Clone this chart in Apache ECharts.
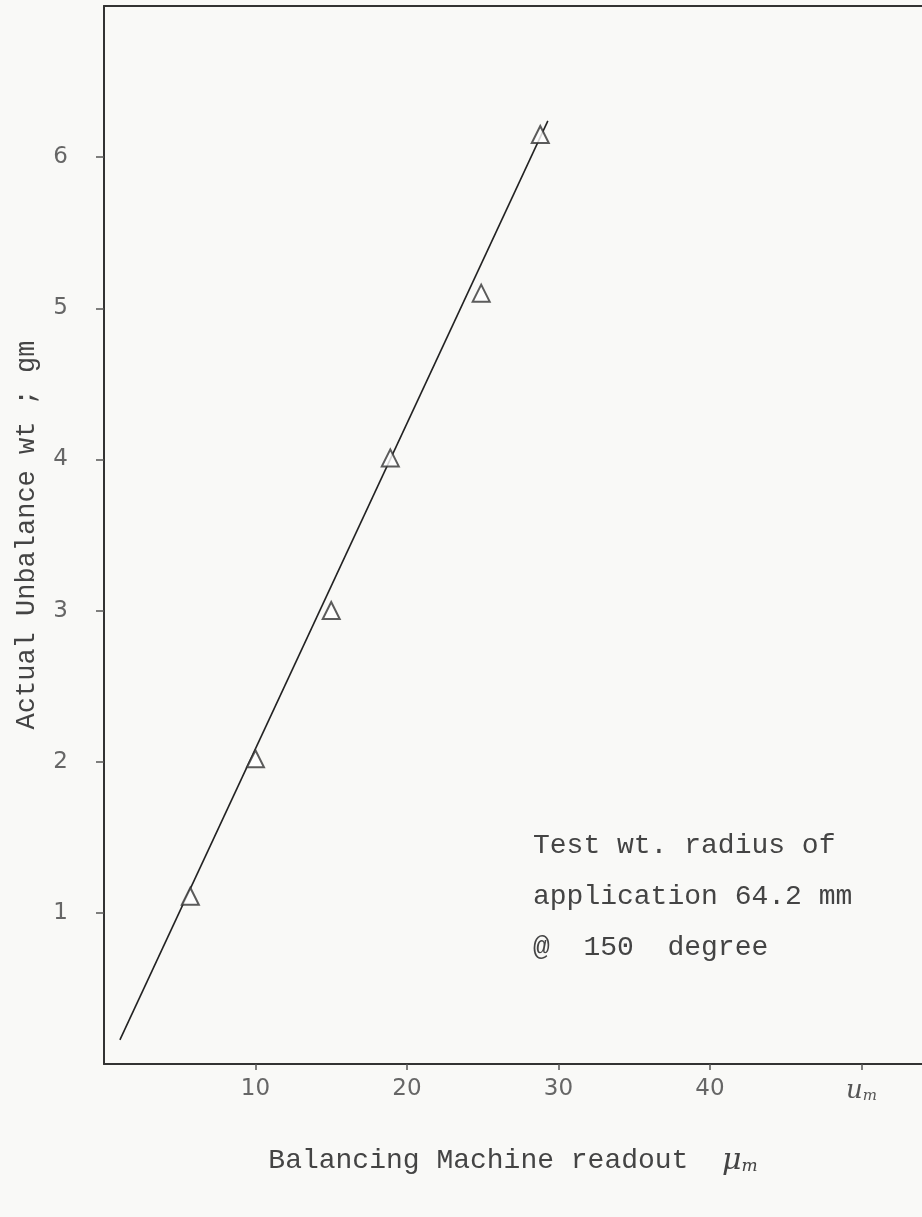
<!DOCTYPE html>
<html>
<head>
<meta charset="utf-8">
<script src="https://cdn.jsdelivr.net/npm/echarts@6/dist/echarts.min.js"></script>
<style>
html,body{margin:0;padding:0;background:#f9f9f7;}
#c{width:922px;height:1217px;}
</style>
</head>
<body>
<div id="c"></div>
<script>
// Measured points (Balancing machine readout, actual unbalance wt in gm)
const readout = [5.7, 10.0, 15.0, 18.9, 24.9, 28.8];
const unbalance = [1.11, 2.02, 3.0, 4.01, 5.1, 6.15];
// Hand-drawn fit line end points
const fitX = [1.05, 29.3];
const fitY = [0.16, 6.24];
// Tick values / labels
const xTicks = [10, 20, 30, 40, 50];
const xTickLabels = {10: '10', 20: '20', 30: '30', 40: '40', 50: 'um'};
const yTicks = [1, 2, 3, 4, 5, 6];
const yTickLabels = {1: '1', 2: '2', 3: '3', 4: '4', 5: '5', 6: '6'};
const noteLines = ['Test wt. radius of', 'application 64.2 mm', '@  150  degree'];

const mono = '"Liberation Mono", "DejaVu Sans Mono", monospace';
const chart = echarts.init(document.getElementById('c'), null, {renderer: 'canvas'});

const option = {
  backgroundColor: '#f9f9f7',
  animation: false,
  grid: {left: 104, top: 6, right: 0, bottom: 153},
  xAxis: [{
    type: 'value', min: 0, max: 54, interval: 10,
    axisLine: {show: true, lineStyle: {color: '#333', width: 2}},
    axisTick: {show: true, inside: false, length: 6, customValues: xTicks, lineStyle: {color: '#555', width: 1.5}},
    splitLine: {show: false},
    axisLabel: {
      margin: 14, color: '#666', fontSize: 23, fontFamily: '"DejaVu Sans", sans-serif',
      customValues: xTicks,
      formatter: v => {
        const t = xTickLabels[v];
        if (!t) return '';
        if (t === 'um') return '{u|u}{s|m}';
        return t;
      },
      rich: {
        u: {fontSize: 26, fontStyle: 'italic', fontFamily: '"DejaVu Serif", serif', color: '#555'},
        s: {fontSize: 15, fontStyle: 'italic', fontFamily: '"DejaVu Serif", serif', color: '#555', padding: [10, 0, 0, 0]}
      }
    },
    name: 'Balancing Machine readout  {mu|μ}{m|m}',
    nameLocation: 'middle', nameGap: 82,
    nameTextStyle: {
      fontFamily: mono, fontSize: 28, color: '#444',
      rich: {
        mu: {fontFamily: '"DejaVu Serif", serif', fontStyle: 'italic', fontSize: 30, color: '#444'},
        m: {fontFamily: '"DejaVu Serif", serif', fontStyle: 'italic', fontSize: 17, color: '#444', padding: [12, 0, 0, 0]}
      }
    }
  }, {
    type: 'value', position: 'top', min: 0, max: 54,
    axisLine: {show: true, lineStyle: {color: '#333', width: 2}},
    axisTick: {show: false}, axisLabel: {show: false}, splitLine: {show: false}
  }],
  yAxis: {
    type: 'value', min: 0, max: 7, interval: 1,
    axisLine: {show: true, lineStyle: {color: '#333', width: 2}},
    axisTick: {show: true, inside: false, length: 8, customValues: yTicks, lineStyle: {color: '#555', width: 1.5}},
    splitLine: {show: false},
    axisLabel: {
      margin: 36, color: '#666', fontSize: 23, fontFamily: '"DejaVu Sans", sans-serif',
      customValues: yTicks,
      formatter: v => yTickLabels[v] || ''
    },
    name: 'Actual Unbalance wt ; gm',
    nameLocation: 'middle', nameRotate: 90, nameGap: 64,
    nameTextStyle: {fontFamily: mono, fontSize: 27, color: '#444'}
  },
  graphic: noteLines.map((t, i) => ({
    type: 'text', left: 533, top: 832 + i * 51,
    style: {text: t, font: '28px ' + mono, fill: '#444'}
  })),
  series: [{
    type: 'line',
    data: fitX.map((x, i) => [x, fitY[i]]),
    symbol: 'none',
    lineStyle: {color: '#222', width: 1.6},
    z: 2
  }, {
    type: 'scatter',
    data: readout.map((x, i) => [x, unbalance[i]]),
    symbol: 'emptyTriangle', symbolSize: 17,
    itemStyle: {color: '#333', borderColor: '#333', borderWidth: 1.8},
    z: 3
  }]
};
chart.setOption(option);
</script>
</body>
</html>
